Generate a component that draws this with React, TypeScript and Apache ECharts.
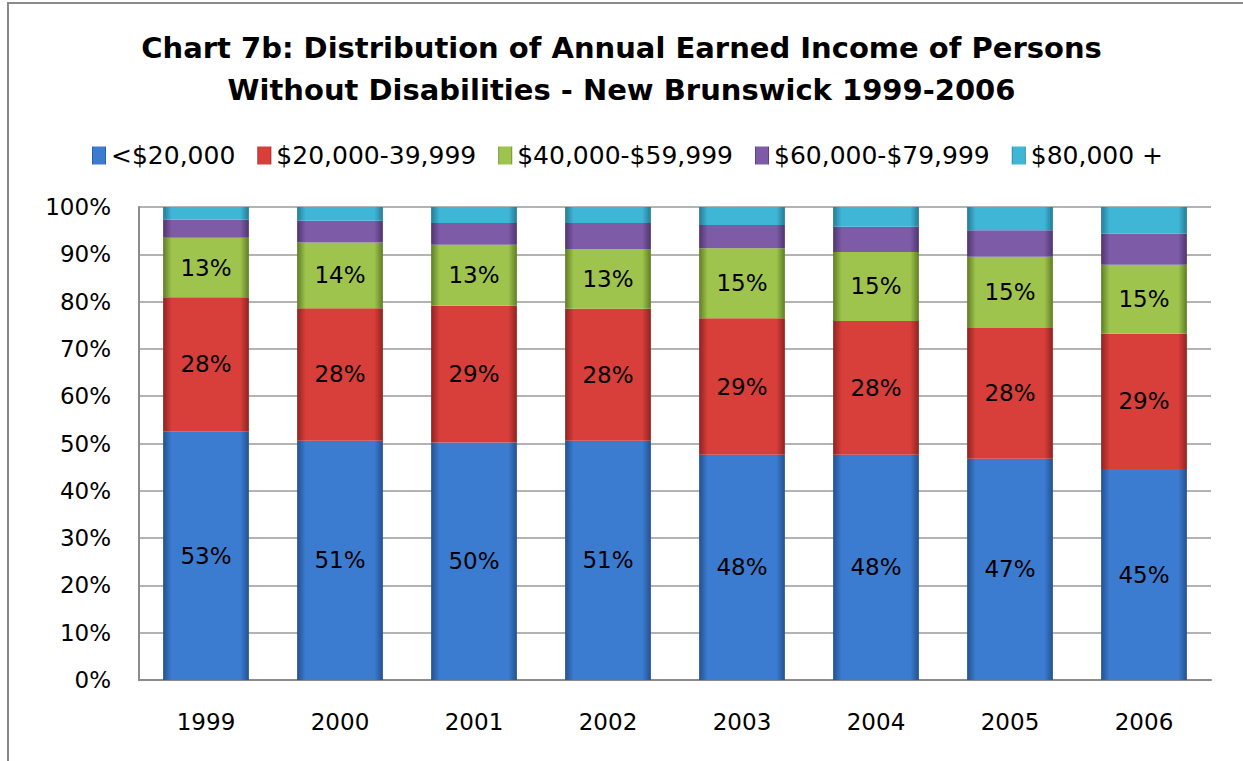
import React, { useEffect, useRef } from "react";
import * as echarts from "echarts";

const years = ["1999", "2000", "2001", "2002", "2003", "2004", "2005", "2006"];
const under20k = [52.6, 50.6, 50.2, 50.6, 47.6, 47.6, 46.8, 44.6];
const from20to40k = [28.3, 28.0, 28.9, 27.9, 28.9, 28.3, 27.6, 28.6];
const from40to60k = [12.6, 13.9, 12.9, 12.6, 14.8, 14.6, 15.1, 14.6];
const from60to80k = [3.8, 4.6, 4.6, 5.5, 4.9, 5.3, 5.6, 6.6];
const over80k = [2.7, 2.9, 3.4, 3.4, 3.8, 4.2, 4.9, 5.6];
const seriesNames = ["<$20,000", "$20,000-39,999", "$40,000-$59,999", "$60,000-$79,999", "$80,000 +"];
const yTicks = [0, 10, 20, 30, 40, 50, 60, 70, 80, 90, 100];

const baseColors = ["#3c7cd0", "#d83e3a", "#9fc44d", "#7d5ba6", "#40b6d6"];
const edgeColors = ["#24508f", "#8f2320", "#5f7d25", "#4e3570", "#247b95"];

function barFill(i: number) {
  return new echarts.graphic.LinearGradient(0, 0, 1, 0, [
    { offset: 0, color: edgeColors[i] },
    { offset: 0.1, color: baseColors[i] },
    { offset: 0.9, color: baseColors[i] },
    { offset: 1, color: edgeColors[i] },
  ]);
}

export default function App() {
  const ref = useRef<HTMLDivElement>(null);
  useEffect(() => {
    if (!ref.current) return;
    const chart = echarts.init(ref.current, undefined, { renderer: "svg" });
    const data = [under20k, from20to40k, from40to60k, from60to80k, over80k];
    const font = "'DejaVu Sans', Verdana, sans-serif";
    chart.setOption({
      animation: false,
      backgroundColor: "#ffffff",
      graphic: [
        {
          type: "rect",
          shape: { x: 8, y: 3, width: 1300, height: 800 },
          style: { fill: "none", stroke: "#8a8a8a", lineWidth: 2 },
          silent: true,
        },
      ],
      title: {
        text: "Chart 7b: Distribution of Annual Earned Income of Persons\nWithout Disabilities - New Brunswick 1999-2006",
        left: "center",
        top: 22,
        textStyle: {
          fontFamily: font,
          fontWeight: "bold",
          fontSize: 29,
          lineHeight: 42,
          color: "#000",
        },
      },
      legend: {
        top: 138,
        left: 87,
        itemWidth: 14,
        itemHeight: 18,
        itemGap: 22,
        icon: "rect",
        textStyle: { fontFamily: font, fontSize: 25, color: "#000" },
        data: seriesNames,
      },
      grid: { left: 139, right: 32, top: 207, bottom: 81, containLabel: false },
      xAxis: {
        type: "category",
        data: years,
        axisLine: { show: true, lineStyle: { color: "#8c8c8c", width: 2 } },
        axisTick: { show: false },
        axisLabel: { fontFamily: font, fontSize: 23, color: "#000", margin: 30 },
      },
      yAxis: {
        type: "value",
        min: 0,
        max: 100,
        interval: 10,
        axisLine: { show: true, lineStyle: { color: "#8c8c8c", width: 2 } },
        axisTick: { show: false },
        splitLine: { lineStyle: { color: "#9a9a9a", width: 1.5 } },
        axisLabel: {
          fontFamily: font,
          fontSize: 23,
          color: "#000",
          margin: 28,
          formatter: (v: number) => (yTicks.includes(v) ? v + "%" : ""),
        },
      },
      series: data.map((vals, i) => ({
        name: seriesNames[i],
        type: "bar",
        stack: "total",
        barWidth: "64%",
        data: vals,
        itemStyle: { color: barFill(i) },
        label: {
          show: i < 3,
          position: "inside",
          fontFamily: font,
          fontSize: 23,
          color: "#000",
          formatter: (p: any) => Math.round(p.value) + "%",
        },
      })),
    });
    return () => chart.dispose();
  }, []);
  return (
    <div
      ref={ref}
      style={{ position: "absolute", left: 0, top: 0, width: 1243, height: 761 }}
    />
  );
}
